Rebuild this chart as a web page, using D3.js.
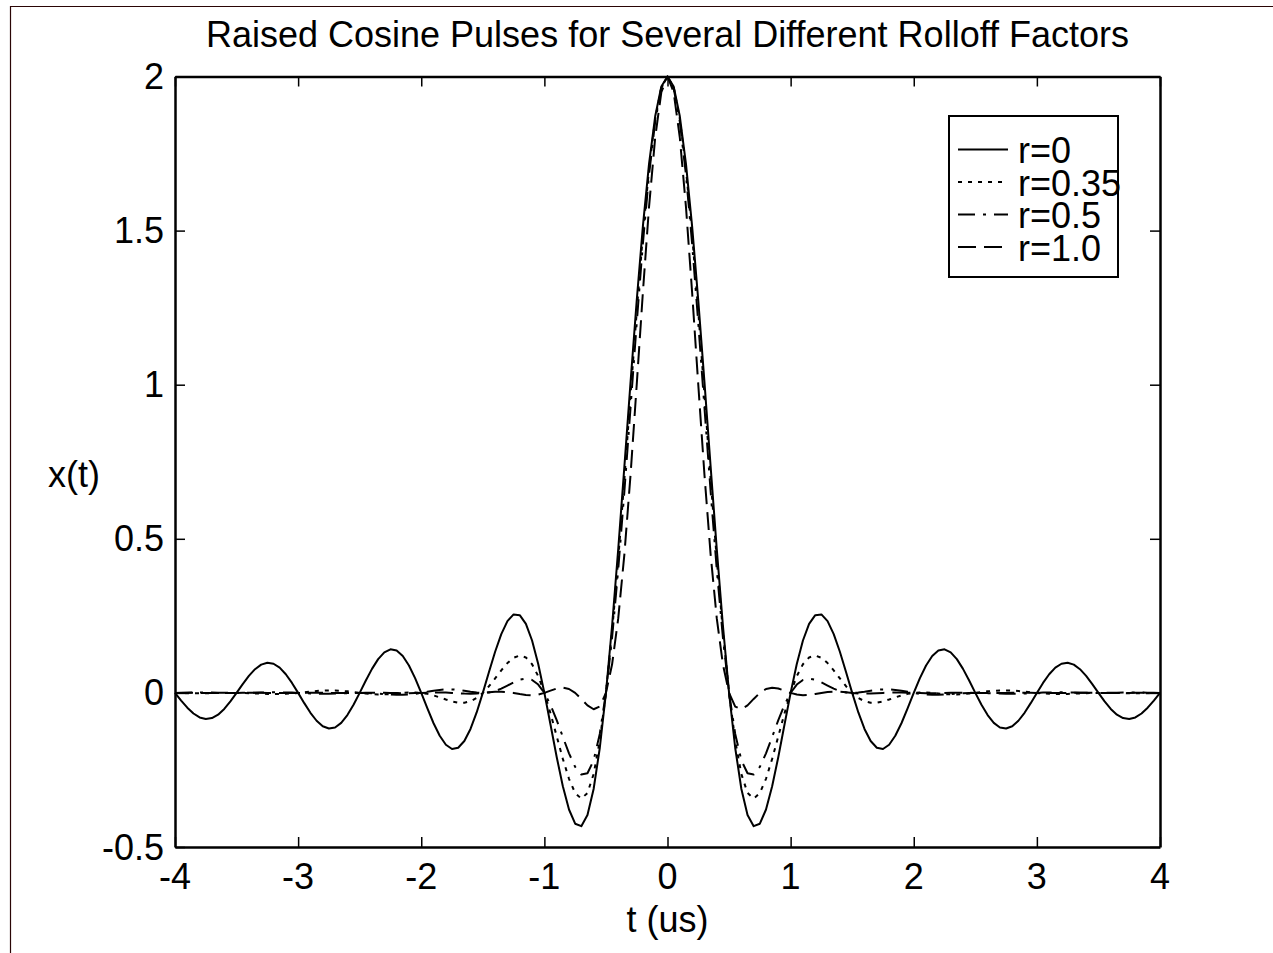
<!DOCTYPE html>
<html>
<head>
<meta charset="utf-8">
<script src="https://cdn.jsdelivr.net/npm/d3@7"></script>
<style>
    body { margin: 0; background: #fff; }
    text { font-family: "Liberation Sans", Arial, sans-serif; fill: #000; }
</style>
</head>
<body>
<div id="chart"></div>
<script>
// sample times, -4 .. 4 us in steps of 0.05
var tValues = d3.range(-80, 81).map(function(i) { return i / 20; });

// r = 0
var r0Values = [
    0, -0.0249, -0.0480, -0.0669, -0.0797, -0.0849, -0.0818, -0.0706, -0.0520, -0.0277,
    0, 0.0285, 0.0550, 0.0769, 0.0917, 0.0979, 0.0946, 0.0818, 0.0604, 0.0323,
    0, -0.0333, -0.0645, -0.0904, -0.1081, -0.1157, -0.1121, -0.0972, -0.0720, -0.0386,
    0, 0.0401, 0.0780, 0.1096, 0.1316, 0.1415, 0.1376, 0.1198, 0.0891, 0.0480,
    0, -0.0504, -0.0985, -0.1392, -0.1682, -0.1819, -0.1781, -0.1561, -0.1169, -0.0635,
    0, 0.0678, 0.1336, 0.1908, 0.2329, 0.2546, 0.2523, 0.2239, 0.1701, 0.0937,
    0, -0.1035, -0.2079, -0.3030, -0.3784, -0.4244, -0.4325, -0.3962, -0.3118, -0.1788,
    0, 0.2186, 0.4677, 0.7358, 1.0091, 1.2732, 1.5137, 1.7168, 1.8710, 1.9673,
    2, 1.9673, 1.8710, 1.7168, 1.5137, 1.2732, 1.0091, 0.7358, 0.4677, 0.2186,
    0, -0.1788, -0.3118, -0.3962, -0.4325, -0.4244, -0.3784, -0.3030, -0.2079, -0.1035,
    0, 0.0937, 0.1701, 0.2239, 0.2523, 0.2546, 0.2329, 0.1908, 0.1336, 0.0678,
    0, -0.0635, -0.1169, -0.1561, -0.1781, -0.1819, -0.1682, -0.1392, -0.0985, -0.0504,
    0, 0.0480, 0.0891, 0.1198, 0.1376, 0.1415, 0.1316, 0.1096, 0.0780, 0.0401,
    0, -0.0386, -0.0720, -0.0972, -0.1121, -0.1157, -0.1081, -0.0904, -0.0645, -0.0333,
    0, 0.0323, 0.0604, 0.0818, 0.0946, 0.0979, 0.0917, 0.0769, 0.0550, 0.0285,
    0, -0.0277, -0.0520, -0.0706, -0.0818, -0.0849, -0.0797, -0.0669, -0.0480, -0.0249,
    0
];

// r = 0.35
var r035Values = [
    0, -0.0006, -0.0011, -0.0014, -0.0014, -0.0012, -0.0009, -0.0005, -0.0001, 0.0001,
    0, -0.0003, -0.0009, -0.0017, -0.0025, -0.0032, -0.0036, -0.0035, -0.0029, -0.0017,
    0, 0.0020, 0.0041, 0.0061, 0.0075, 0.0081, 0.0079, 0.0068, 0.0050, 0.0026,
    0, -0.0023, -0.0041, -0.0049, -0.0048, -0.0037, -0.0020, -0.0002, 0.0011, 0.0013,
    0, -0.0032, -0.0083, -0.0146, -0.0215, -0.0277, -0.0316, -0.0318, -0.0271, -0.0165,
    0, 0.0217, 0.0469, 0.0731, 0.0967, 0.1140, 0.1213, 0.1151, 0.0930, 0.0543,
    0, -0.0667, -0.1405, -0.2141, -0.2787, -0.3249, -0.3431, -0.3247, -0.2634, -0.1552,
    0, 0.1990, 0.4343, 0.6954, 0.9681, 1.2371, 1.4862, 1.6992, 1.8625, 1.9650,
    2, 1.9650, 1.8625, 1.6992, 1.4862, 1.2371, 0.9681, 0.6954, 0.4343, 0.1990,
    0, -0.1552, -0.2634, -0.3247, -0.3431, -0.3249, -0.2787, -0.2141, -0.1405, -0.0667,
    0, 0.0543, 0.0930, 0.1151, 0.1213, 0.1140, 0.0967, 0.0731, 0.0469, 0.0217,
    0, -0.0165, -0.0271, -0.0318, -0.0316, -0.0277, -0.0215, -0.0146, -0.0083, -0.0032,
    0, 0.0013, 0.0011, -0.0002, -0.0020, -0.0037, -0.0048, -0.0049, -0.0041, -0.0023,
    0, 0.0026, 0.0050, 0.0068, 0.0079, 0.0081, 0.0075, 0.0061, 0.0041, 0.0020,
    0, -0.0017, -0.0029, -0.0035, -0.0036, -0.0032, -0.0025, -0.0017, -0.0009, -0.0003,
    0, 0.0001, -0.0001, -0.0005, -0.0009, -0.0012, -0.0014, -0.0014, -0.0011, -0.0006,
    0
];

// r = 0.5
var r05Values = [
    0, 0.0004, 0.0008, 0.0010, 0.0011, 0.0011, 0.0009, 0.0006, 0.0003, 0.0001,
    0, 0.0001, 0.0004, 0.0008, 0.0013, 0.0017, 0.0019, 0.0019, 0.0015, 0.0009,
    0, -0.0010, -0.0019, -0.0026, -0.0029, -0.0028, -0.0023, -0.0016, -0.0009, -0.0002,
    0, -0.0003, -0.0011, -0.0024, -0.0038, -0.0052, -0.0061, -0.0061, -0.0051, -0.0030,
    0, 0.0035, 0.0070, 0.0098, 0.0114, 0.0114, 0.0099, 0.0072, 0.0039, 0.0012,
    0, 0.0014, 0.0060, 0.0138, 0.0238, 0.0343, 0.0429, 0.0465, 0.0421, 0.0271,
    0, -0.0392, -0.0883, -0.1428, -0.1962, -0.2401, -0.2648, -0.2607, -0.2190, -0.1332,
    0, 0.1800, 0.4015, 0.6550, 0.9268, 1.2004, 1.4579, 1.6810, 1.8536, 1.9627,
    2, 1.9627, 1.8536, 1.6810, 1.4579, 1.2004, 0.9268, 0.6550, 0.4015, 0.1800,
    0, -0.1332, -0.2190, -0.2607, -0.2648, -0.2401, -0.1962, -0.1428, -0.0883, -0.0392,
    0, 0.0271, 0.0421, 0.0465, 0.0429, 0.0343, 0.0238, 0.0138, 0.0060, 0.0014,
    0, 0.0012, 0.0039, 0.0072, 0.0099, 0.0114, 0.0114, 0.0098, 0.0070, 0.0035,
    0, -0.0030, -0.0051, -0.0061, -0.0061, -0.0052, -0.0038, -0.0024, -0.0011, -0.0003,
    0, -0.0002, -0.0009, -0.0016, -0.0023, -0.0028, -0.0029, -0.0026, -0.0019, -0.0010,
    0, 0.0009, 0.0015, 0.0019, 0.0019, 0.0017, 0.0013, 0.0008, 0.0004, 0.0001,
    0, 0.0001, 0.0003, 0.0006, 0.0009, 0.0011, 0.0011, 0.0010, 0.0008, 0.0004,
    0
];

// r = 1.0
var r1Values = [
    0, 0, 0.0001, 0.0001, 0.0001, 0, -0.0001, -0.0002, -0.0002, -0.0001,
    0, 0.0001, 0.0002, 0.0003, 0.0002, 0, -0.0002, -0.0003, -0.0003, -0.0002,
    0, 0.0002, 0.0004, 0.0004, 0.0003, 0, -0.0003, -0.0005, -0.0005, -0.0004,
    0, 0.0004, 0.0007, 0.0007, 0.0005, 0, -0.0006, -0.0010, -0.0010, -0.0007,
    0, 0.0008, 0.0014, 0.0015, 0.0010, 0, -0.0012, -0.0022, -0.0024, -0.0016,
    0, 0.0020, 0.0036, 0.0040, 0.0028, 0, -0.0035, -0.0065, -0.0075, -0.0054,
    0, 0.0073, 0.0141, 0.0169, 0.0127, 0, -0.0195, -0.0404, -0.0530, -0.0443,
    0, 0.0928, 0.2425, 0.4505, 0.7087, 1.0000, 1.2993, 1.5767, 1.8020, 1.9490,
    2, 1.9490, 1.8020, 1.5767, 1.2993, 1.0000, 0.7087, 0.4505, 0.2425, 0.0928,
    0, -0.0443, -0.0530, -0.0404, -0.0195, 0, 0.0127, 0.0169, 0.0141, 0.0073,
    0, -0.0054, -0.0075, -0.0065, -0.0035, 0, 0.0028, 0.0040, 0.0036, 0.0020,
    0, -0.0016, -0.0024, -0.0022, -0.0012, 0, 0.0010, 0.0015, 0.0014, 0.0008,
    0, -0.0007, -0.0010, -0.0010, -0.0006, 0, 0.0005, 0.0007, 0.0007, 0.0004,
    0, -0.0004, -0.0005, -0.0005, -0.0003, 0, 0.0003, 0.0004, 0.0004, 0.0002,
    0, -0.0002, -0.0003, -0.0003, -0.0002, 0, 0.0002, 0.0003, 0.0002, 0.0001,
    0, -0.0001, -0.0002, -0.0002, -0.0001, 0, 0.0001, 0.0001, 0.0001, 0,
    0
];

var seriesNames = ["r=0", "r=0.35", "r=0.5", "r=1.0"];
var xTicks = [-4, -3, -2, -1, 0, 1, 2, 3, 4];
var xTickLabels = ["-4", "-3", "-2", "-1", "0", "1", "2", "3", "4"];
var yTicks = [-0.5, 0, 0.5, 1, 1.5, 2];
var yTickLabels = ["-0.5", "0", "0.5", "1", "1.5", "2"];

function init() {
    var w = 1273;
    var h = 953;
    var left = 175, right = 1160, top = 76.5, bottom = 847;

    var svg = d3.select("#chart")
        .append("svg")
        .attr("width", w)
        .attr("height", h)
        .style("display", "block");

    svg.append("rect").attr("width", w).attr("height", h).attr("fill", "#fff");

    // thin figure frame (top and left edges only)
    svg.append("path")
        .attr("d", "M10.5," + h + "V6.5H" + w)
        .attr("fill", "none")
        .attr("stroke", "#2a0505")
        .attr("stroke-width", 1.2);

    var x = d3.scaleLinear().domain([-4, 4]).range([left, right]);
    var y = d3.scaleLinear().domain([-0.5, 2]).range([bottom, top]);

    var series = [
        { name: seriesNames[0], values: r0Values, dash: null },
        { name: seriesNames[1], values: r035Values, dash: "4,6" },
        { name: seriesNames[2], values: r05Values, dash: "17,8,3,8" },
        { name: seriesNames[3], values: r1Values, dash: "18,8" }
    ];

    var line = d3.line()
        .x(function(d) { return x(d[0]); })
        .y(function(d) { return y(d[1]); });

    // curves
    svg.append("g").selectAll("path")
        .data(series)
        .enter()
        .append("path")
        .attr("d", function(s) {
            return line(tValues.map(function(t, i) { return [t, s.values[i]]; }));
        })
        .attr("fill", "none")
        .attr("stroke", "#000")
        .attr("stroke-width", 2)
        .attr("stroke-linejoin", "round")
        .attr("stroke-dasharray", function(s) { return s.dash; });

    // axes box with inward ticks on all four sides
    function styleAxis(g) {
        g.select(".domain").attr("stroke", "#000").attr("stroke-width", 2.5);
        g.selectAll(".tick line").attr("stroke", "#000").attr("stroke-width", 1.5);
        g.selectAll(".tick text").remove();
    }
    svg.append("g").attr("transform", "translate(0," + bottom + ")")
        .call(d3.axisBottom(x).tickValues(xTicks).tickSizeInner(-10).tickSizeOuter(0)).call(styleAxis);
    svg.append("g").attr("transform", "translate(0," + top + ")")
        .call(d3.axisTop(x).tickValues(xTicks).tickSizeInner(-10).tickSizeOuter(0)).call(styleAxis);
    svg.append("g").attr("transform", "translate(" + left + ",0)")
        .call(d3.axisLeft(y).tickValues(yTicks).tickSizeInner(-10).tickSizeOuter(0)).call(styleAxis);
    svg.append("g").attr("transform", "translate(" + right + ",0)")
        .call(d3.axisRight(y).tickValues(yTicks).tickSizeInner(-10).tickSizeOuter(0)).call(styleAxis);

    // tick labels
    svg.append("g").selectAll("text")
        .data(xTicks)
        .enter()
        .append("text")
        .attr("x", function(d) { return x(d); })
        .attr("y", 889)
        .attr("text-anchor", "middle")
        .attr("font-size", 36)
        .text(function(d, i) { return xTickLabels[i]; });

    svg.append("g").selectAll("text")
        .data(yTicks)
        .enter()
        .append("text")
        .attr("x", left - 11)
        .attr("y", function(d) { return y(d) + 12.5; })
        .attr("text-anchor", "end")
        .attr("font-size", 36)
        .text(function(d, i) { return yTickLabels[i]; });

    // title and axis labels
    svg.append("text")
        .attr("x", (left + right) / 2)
        .attr("y", 47)
        .attr("text-anchor", "middle")
        .attr("font-size", 36)
        .text("Raised Cosine Pulses for Several Different Rolloff Factors");

    svg.append("text")
        .attr("x", (left + right) / 2)
        .attr("y", 932)
        .attr("text-anchor", "middle")
        .attr("font-size", 36)
        .text("t (us)");

    svg.append("text")
        .attr("x", 48)
        .attr("y", 487)
        .attr("font-size", 36)
        .text("x(t)");

    // legend
    var legend = svg.append("g");
    legend.append("rect")
        .attr("x", 949).attr("y", 116)
        .attr("width", 169).attr("height", 161)
        .attr("fill", "#fff")
        .attr("stroke", "#000")
        .attr("stroke-width", 2);

    var rows = legend.selectAll("g.row")
        .data(series)
        .enter()
        .append("g")
        .attr("class", "row")
        .attr("transform", function(d, i) { return "translate(0," + (163 + i * 32.5) + ")"; });

    rows.append("line")
        .attr("x1", 958).attr("x2", 1008)
        .attr("y1", -13.5).attr("y2", -13.5)
        .attr("stroke", "#000")
        .attr("stroke-width", 2)
        .attr("stroke-dasharray", function(s) { return s.dash; });

    rows.append("text")
        .attr("x", 1018)
        .attr("y", 0)
        .attr("font-size", 36)
        .text(function(s) { return s.name; });
}

window.onload = init;
</script>
</body>
</html>
